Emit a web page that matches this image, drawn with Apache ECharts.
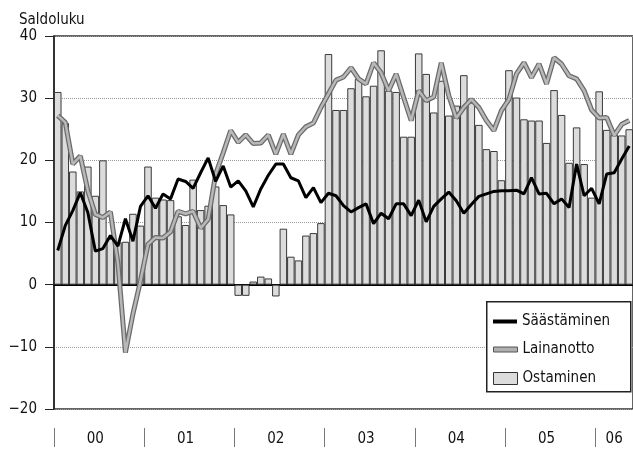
<!DOCTYPE html>
<html>
<head>
<meta charset="utf-8">
<script src="https://cdn.jsdelivr.net/npm/echarts@6/dist/echarts.min.js"></script>
<style>
  html, body { margin: 0; padding: 0; background: #fff; }
  #chart { width: 633px; height: 450px; }
</style>
</head>
<body>
<div id="chart"></div>
<script>
// vuodet, kuukaudet 2000-01 ... 2006-05
const years = ['00', '01', '02', '03', '04', '05', '06'];
const monthsPerYear = [12, 12, 12, 12, 12, 12, 5];

const ostaminen = [
  31, 26, 18.2, 15, 19, 14.3, 20, 7.4, 6.8, 6.9, 11.4, 9.5,
  19, 14, 13.7, 13.6, 11, 9.6, 16.9, 12, 12.7, 15.8, 12.8, 11.3,
  -1.8, -1.8, 0.5, 1.3, 1.0, -1.9, 9.0, 4.5, 3.9, 7.9, 8.3, 9.9,
  37.1, 28.1, 28.1, 31.6, 33.1, 30.3, 32, 37.7, 31.2, 31, 23.8, 23.8,
  37.2, 33.9, 27.7, 32.8, 27.2, 28.8, 33.7, 29.3, 25.7, 21.8, 21.5, 16.8,
  34.5, 30.1, 26.6, 26.4, 26.4, 22.8, 31.3, 27.3, 19.6, 25.3, 19.4, 14,
  31.1, 24.9, 24.1, 24, 25
];
const saastaminen = [
  5.5, 9.5, 11.9, 14.8, 11.6, 5.4, 5.8, 7.9, 6.2, 10.6, 7, 12.6,
  14.3, 12.3, 14.6, 13.8, 17, 16.6, 15.5, 18, 20.4, 16.6, 19.1, 15.7,
  16.7, 15.1, 12.5, 15.4, 17.6, 19.4, 19.4, 17.2, 16.7, 14, 15.6, 13.2,
  14.7, 14.3, 12.7, 11.7, 12.4, 13, 9.8, 11.5, 10.6, 13, 13, 11.1,
  13.6, 10.1, 12.6, 13.8, 14.9, 13.5, 11.5, 12.9, 14.2, 14.6, 15, 15.1,
  15.1, 15.2, 14.6, 17.2, 14.6, 14.7, 13, 13.8, 12.4, 19.4, 14.3, 15.5,
  13, 17.8, 18, 20.2, 22.3
];
const lainanotto = [
  27.2, 26.1, 19.4, 20.7, 15.1, 11.3, 10.8, 11.7, 3.5, -10.9, -4.7, 0.6,
  6.5, 7.6, 7.5, 8.5, 11.8, 11.4, 11.8, 9.1, 10.5, 17.8, 21.2, 24.8,
  22.9, 24.1, 22.7, 22.8, 24.1, 21, 24.2, 21, 24.1, 25.4, 26, 28.5,
  30.7, 32.9, 33.4, 34.9, 33.1, 32.3, 35.7, 34.1, 31.2, 33.9, 30.1, 26.4,
  31.2, 29.6, 30.2, 35.7, 30.4, 26.8, 28.5, 29.8, 28.5, 26.4, 24.8, 28,
  29.8, 33.9, 35.7, 33.3, 35.5, 32.3, 36.5, 35.5, 33.6, 33.1, 31.2, 28.1,
  26.8, 26.9, 24, 25.8, 26.4
];

const categories = [];
years.forEach((y, i) => {
  for (let m = 1; m <= monthsPerYear[i]; m++) categories.push(y + '-' + m);
});

const FONT = "'Liberation Sans Narrow', 'DejaVu Sans Condensed', sans-serif";

let myChart = echarts.init(document.getElementById('chart'), null, { renderer: 'canvas' });
myChart.setOption({
  animation: false,
  title: {
    text: 'Saldoluku', left: 14, top: 8,
    textStyle: { fontFamily: FONT, fontSize: 15, fontWeight: 'normal', color: '#111' }
  },
  grid: {
    left: 54, top: 36, width: 582, height: 373,
    show: true, borderColor: '#333', borderWidth: 1.5
  },
  xAxis: [
    {
      type: 'category', data: categories, boundaryGap: true,
      axisLine: { onZero: true, lineStyle: { color: '#000', width: 2 } },
      axisTick: { show: false }, axisLabel: { show: false }, splitLine: { show: false }
    },
    {
      type: 'category', data: categories, boundaryGap: true,
      position: 'bottom', offset: 19,
      axisLine: { show: false },
      axisTick: {
        show: true, length: 19, alignWithLabel: false,
        interval: (idx) => idx % 12 === 0,
        lineStyle: { color: '#777', width: 1 }
      },
      axisLabel: {
        interval: (idx) => idx % 12 === 5 || idx === 74,
        formatter: (v) => v.split('-')[0],
        margin: 4, fontFamily: FONT, fontSize: 15, color: '#111'
      },
      splitLine: { show: false }
    }
  ],
  yAxis: {
    type: 'value', min: -20, max: 40, interval: 10,
    axisLine: { show: true, lineStyle: { color: '#222', width: 1.5 } },
    axisTick: { show: true, length: 9, lineStyle: { color: '#222' } },
    axisLabel: {
      margin: 17, fontFamily: FONT, fontSize: 15, color: '#111',
      formatter: (v) => v < 0 ? '\u2212' + (-v) : String(v)
    },
    splitLine: { lineStyle: { type: 'dotted', color: '#999', width: 1 } }
  },
  legend: [
    {
      left: 493, top: 314, padding: 0, selectedMode: false, z: 20,
      itemWidth: 24, itemHeight: 4,
      data: [{ name: 'Säästäminen', icon: 'rect' }],
      itemStyle: { color: '#000' },
      textStyle: { fontFamily: FONT, fontSize: 15, color: '#111' }
    },
    {
      left: 493, top: 342, padding: 0, selectedMode: false, z: 20,
      itemWidth: 24, itemHeight: 5,
      data: [{ name: 'Lainanotto', icon: 'rect' }],
      itemStyle: { color: '#b0b0b0', borderColor: '#555', borderWidth: 1 },
      textStyle: { fontFamily: FONT, fontSize: 15, color: '#111' }
    },
    {
      left: 493, top: 371, padding: 0, selectedMode: false, z: 20,
      itemWidth: 24, itemHeight: 12,
      data: [{ name: 'Ostaminen', icon: 'rect' }],
      itemStyle: { color: '#dcdcdc', borderColor: '#333', borderWidth: 1 },
      textStyle: { fontFamily: FONT, fontSize: 15, color: '#111' }
    }
  ],
  graphic: [
    {
      type: 'rect', left: 486, top: 301, z: 15,
      shape: { width: 144, height: 90 },
      style: { fill: '#fff', stroke: '#222', lineWidth: 1.5 }
    }
  ],
  series: [
    {
      name: 'Ostaminen', type: 'bar', data: ostaminen,
      barCategoryGap: '0%',
      itemStyle: { color: '#dcdcdc', borderColor: '#3a3a3a', borderWidth: 1 }
    },
    {
      name: 'LainanottoReuna', type: 'line', data: lainanotto,
      symbol: 'none', silent: true,
      lineStyle: { color: '#6a6a6a', width: 5 }
    },
    {
      name: 'Lainanotto', type: 'line', data: lainanotto,
      symbol: 'none',
      lineStyle: { color: '#b8b8b8', width: 2.5 },
      itemStyle: { color: '#b8b8b8' }
    },
    {
      name: 'Säästäminen', type: 'line', data: saastaminen,
      symbol: 'none',
      lineStyle: { color: '#000', width: 3 },
      itemStyle: { color: '#000' }
    }
  ]
});
</script>
</body>
</html>
